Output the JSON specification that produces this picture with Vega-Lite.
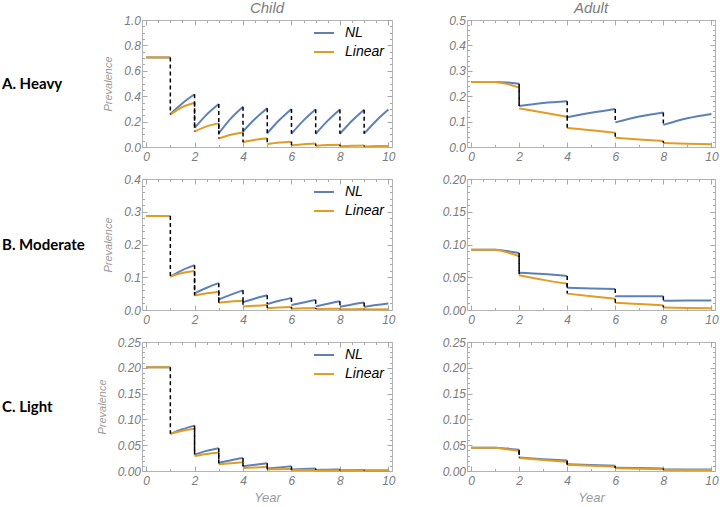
{
  "$schema": "https://vega.github.io/schema/vega-lite/v6.json",
  "autosize": {"type": "pad"},
  "padding": {"left": 2, "top": 0, "right": 0, "bottom": 0},
  "background": "white",
  "columns": 3,
  "spacing": {"column": 75, "row": 32},
  "bounds": "flush",
  "resolve": {"scale": {"color": "independent"}, "legend": {"color": "independent"}},
  "config": {
    "font": "Liberation Sans",
    "view": {"stroke": "#b4b4b4"},
    "axis": {"labelFont": "Liberation Sans", "labelFontStyle": "italic", "labelColor": "#7c7c7c", "labelFontSize": 12, "labelOverlap": false, "labelFlush": false, "domain": false, "grid": false, "ticks": true, "tickColor": "#a8a8a8", "labelPadding": 6.5, "titleFont": "Liberation Sans", "titleFontStyle": "italic", "titleFontWeight": "normal", "titleColor": "#9a9a9a", "titleFontSize": 11},
    "axisX": {"labelPadding": 9.5, "titleFontSize": 13, "titlePadding": 2},
    "axisY": {"titlePadding": 10},
    "title": {"font": "Liberation Sans", "fontStyle": "italic", "fontWeight": "normal", "color": "#7c7c7c", "fontSize": 15, "offset": -2},
    "legend": {"orient": "none", "legendX": 171, "legendY": 2, "title": null, "symbolType": "stroke", "symbolSize": 400, "symbolStrokeWidth": 2, "labelFont": "Liberation Sans", "labelFontStyle": "italic", "labelColor": "black", "labelFontSize": 14, "labelOffset": 10, "rowPadding": 1, "padding": 0},
    "line": {"strokeWidth": 2, "interpolate": "monotone"},
    "rule": {"strokeDash": [4, 3], "color": "black", "strokeWidth": 1.5}
  },
  "datasets": {
    "ACl": [
      {"s":"NL","g":0,"x":0,"y":0.705},{"s":"NL","g":0,"x":1,"y":0.705},
      {"s":"NL","g":1,"x":1,"y":0.26},{"s":"NL","g":1,"x":1.5,"y":0.345},{"s":"NL","g":1,"x":2,"y":0.415},
      {"s":"NL","g":2,"x":2,"y":0.15},{"s":"NL","g":2,"x":2.5,"y":0.255},{"s":"NL","g":2,"x":3,"y":0.338},
      {"s":"NL","g":3,"x":3,"y":0.108},{"s":"NL","g":3,"x":3.5,"y":0.225},{"s":"NL","g":3,"x":4,"y":0.317},
      {"s":"NL","g":4,"x":4,"y":0.122},{"s":"NL","g":4,"x":4.5,"y":0.222},{"s":"NL","g":4,"x":5,"y":0.305},
      {"s":"NL","g":5,"x":5,"y":0.108},{"s":"NL","g":5,"x":5.5,"y":0.212},{"s":"NL","g":5,"x":6,"y":0.3},
      {"s":"NL","g":6,"x":6,"y":0.105},{"s":"NL","g":6,"x":6.5,"y":0.21},{"s":"NL","g":6,"x":7,"y":0.298},
      {"s":"NL","g":7,"x":7,"y":0.104},{"s":"NL","g":7,"x":7.5,"y":0.208},{"s":"NL","g":7,"x":8,"y":0.296},
      {"s":"NL","g":8,"x":8,"y":0.104},{"s":"NL","g":8,"x":8.5,"y":0.207},{"s":"NL","g":8,"x":9,"y":0.294},
      {"s":"NL","g":9,"x":9,"y":0.105},{"s":"NL","g":9,"x":9.5,"y":0.207},{"s":"NL","g":9,"x":10,"y":0.295},
      {"s":"Linear","g":0,"x":0,"y":0.705},{"s":"Linear","g":0,"x":1,"y":0.705},
      {"s":"Linear","g":1,"x":1,"y":0.255},{"s":"Linear","g":1,"x":1.5,"y":0.315},{"s":"Linear","g":1,"x":2,"y":0.349},
      {"s":"Linear","g":2,"x":2,"y":0.122},{"s":"Linear","g":2,"x":2.5,"y":0.162},{"s":"Linear","g":2,"x":3,"y":0.186},
      {"s":"Linear","g":3,"x":3,"y":0.067},{"s":"Linear","g":3,"x":3.5,"y":0.097},{"s":"Linear","g":3,"x":4,"y":0.115},
      {"s":"Linear","g":4,"x":4,"y":0.038},{"s":"Linear","g":4,"x":4.5,"y":0.057},{"s":"Linear","g":4,"x":5,"y":0.069},
      {"s":"Linear","g":5,"x":5,"y":0.022},{"s":"Linear","g":5,"x":5.5,"y":0.035},{"s":"Linear","g":5,"x":6,"y":0.042},
      {"s":"Linear","g":6,"x":6,"y":0.014},{"s":"Linear","g":6,"x":6.5,"y":0.022},{"s":"Linear","g":6,"x":7,"y":0.027},
      {"s":"Linear","g":7,"x":7,"y":0.009},{"s":"Linear","g":7,"x":7.5,"y":0.015},{"s":"Linear","g":7,"x":8,"y":0.018},
      {"s":"Linear","g":8,"x":8,"y":0.006},{"s":"Linear","g":8,"x":8.5,"y":0.01},{"s":"Linear","g":8,"x":9,"y":0.012},
      {"s":"Linear","g":9,"x":9,"y":0.004},{"s":"Linear","g":9,"x":9.5,"y":0.007},{"s":"Linear","g":9,"x":10,"y":0.008}
    ],
    "ACr": [
      {"x":1,"y":0.705,"y2":0.255},
      {"x":2,"y":0.415,"y2":0.15},{"x":2,"y":0.349,"y2":0.122},
      {"x":3,"y":0.338,"y2":0.108},{"x":3,"y":0.186,"y2":0.067},
      {"x":4,"y":0.317,"y2":0.122},{"x":4,"y":0.115,"y2":0.038},
      {"x":5,"y":0.305,"y2":0.108},{"x":5,"y":0.069,"y2":0.022},
      {"x":6,"y":0.3,"y2":0.105},{"x":6,"y":0.042,"y2":0.014},
      {"x":7,"y":0.298,"y2":0.104},{"x":7,"y":0.027,"y2":0.009},
      {"x":8,"y":0.296,"y2":0.104},{"x":8,"y":0.018,"y2":0.006},
      {"x":9,"y":0.294,"y2":0.105},{"x":9,"y":0.012,"y2":0.004}
    ],
    "AAl": [
      {"s":"NL","g":0,"x":0,"y":0.256},{"s":"NL","g":0,"x":1,"y":0.256},{"s":"NL","g":0,"x":1.5,"y":0.254},{"s":"NL","g":0,"x":2,"y":0.249},
      {"s":"NL","g":1,"x":2,"y":0.161},{"s":"NL","g":1,"x":3,"y":0.173},{"s":"NL","g":1,"x":4,"y":0.18},
      {"s":"NL","g":2,"x":4,"y":0.117},{"s":"NL","g":2,"x":5,"y":0.135},{"s":"NL","g":2,"x":6,"y":0.15},
      {"s":"NL","g":3,"x":6,"y":0.097},{"s":"NL","g":3,"x":7,"y":0.12},{"s":"NL","g":3,"x":8,"y":0.136},
      {"s":"NL","g":4,"x":8,"y":0.087},{"s":"NL","g":4,"x":9,"y":0.113},{"s":"NL","g":4,"x":10,"y":0.13},
      {"s":"Linear","g":0,"x":0,"y":0.256},{"s":"Linear","g":0,"x":1,"y":0.256},{"s":"Linear","g":0,"x":1.5,"y":0.248},{"s":"Linear","g":0,"x":2,"y":0.234},
      {"s":"Linear","g":1,"x":2,"y":0.152},{"s":"Linear","g":1,"x":3,"y":0.136},{"s":"Linear","g":1,"x":4,"y":0.119},
      {"s":"Linear","g":2,"x":4,"y":0.075},{"s":"Linear","g":2,"x":5,"y":0.066},{"s":"Linear","g":2,"x":6,"y":0.056},
      {"s":"Linear","g":3,"x":6,"y":0.036},{"s":"Linear","g":3,"x":7,"y":0.03},{"s":"Linear","g":3,"x":8,"y":0.024},
      {"s":"Linear","g":4,"x":8,"y":0.016},{"s":"Linear","g":4,"x":9,"y":0.013},{"s":"Linear","g":4,"x":10,"y":0.011}
    ],
    "AAr": [
      {"x":2,"y":0.249,"y2":0.161},{"x":2,"y":0.234,"y2":0.152},
      {"x":4,"y":0.18,"y2":0.117},{"x":4,"y":0.119,"y2":0.075},
      {"x":6,"y":0.15,"y2":0.097},{"x":6,"y":0.056,"y2":0.036},
      {"x":8,"y":0.136,"y2":0.087},{"x":8,"y":0.024,"y2":0.016}
    ],
    "BCl": [
      {"s":"NL","g":0,"x":0,"y":0.287},{"s":"NL","g":0,"x":1,"y":0.287},
      {"s":"NL","g":1,"x":1,"y":0.102},{"s":"NL","g":1,"x":1.5,"y":0.122},{"s":"NL","g":1,"x":2,"y":0.137},
      {"s":"NL","g":2,"x":2,"y":0.051},{"s":"NL","g":2,"x":2.5,"y":0.068},{"s":"NL","g":2,"x":3,"y":0.082},
      {"s":"NL","g":3,"x":3,"y":0.032},{"s":"NL","g":3,"x":3.5,"y":0.047},{"s":"NL","g":3,"x":4,"y":0.06},
      {"s":"NL","g":4,"x":4,"y":0.024},{"s":"NL","g":4,"x":4.5,"y":0.035},{"s":"NL","g":4,"x":5,"y":0.045},
      {"s":"NL","g":5,"x":5,"y":0.018},{"s":"NL","g":5,"x":5.5,"y":0.028},{"s":"NL","g":5,"x":6,"y":0.037},
      {"s":"NL","g":6,"x":6,"y":0.015},{"s":"NL","g":6,"x":6.5,"y":0.023},{"s":"NL","g":6,"x":7,"y":0.031},
      {"s":"NL","g":7,"x":7,"y":0.011},{"s":"NL","g":7,"x":7.5,"y":0.019},{"s":"NL","g":7,"x":8,"y":0.027},
      {"s":"NL","g":8,"x":8,"y":0.01},{"s":"NL","g":8,"x":8.5,"y":0.017},{"s":"NL","g":8,"x":9,"y":0.023},
      {"s":"NL","g":9,"x":9,"y":0.009},{"s":"NL","g":9,"x":9.5,"y":0.015},{"s":"NL","g":9,"x":10,"y":0.02},
      {"s":"Linear","g":0,"x":0,"y":0.287},{"s":"Linear","g":0,"x":1,"y":0.287},
      {"s":"Linear","g":1,"x":1,"y":0.102},{"s":"Linear","g":1,"x":1.5,"y":0.113},{"s":"Linear","g":1,"x":2,"y":0.119},
      {"s":"Linear","g":2,"x":2,"y":0.044},{"s":"Linear","g":2,"x":2.5,"y":0.051},{"s":"Linear","g":2,"x":3,"y":0.056},
      {"s":"Linear","g":3,"x":3,"y":0.022},{"s":"Linear","g":3,"x":3.5,"y":0.026},{"s":"Linear","g":3,"x":4,"y":0.028},
      {"s":"Linear","g":4,"x":4,"y":0.011},{"s":"Linear","g":4,"x":4.5,"y":0.013},{"s":"Linear","g":4,"x":5,"y":0.015},
      {"s":"Linear","g":5,"x":5,"y":0.006},{"s":"Linear","g":5,"x":5.5,"y":0.008},{"s":"Linear","g":5,"x":6,"y":0.009},
      {"s":"Linear","g":6,"x":6,"y":0.004},{"s":"Linear","g":6,"x":6.5,"y":0.005},{"s":"Linear","g":6,"x":7,"y":0.006},
      {"s":"Linear","g":7,"x":7,"y":0.003},{"s":"Linear","g":7,"x":7.5,"y":0.0035},{"s":"Linear","g":7,"x":8,"y":0.004},
      {"s":"Linear","g":8,"x":8,"y":0.002},{"s":"Linear","g":8,"x":8.5,"y":0.0025},{"s":"Linear","g":8,"x":9,"y":0.003},
      {"s":"Linear","g":9,"x":9,"y":0.002},{"s":"Linear","g":9,"x":9.5,"y":0.002},{"s":"Linear","g":9,"x":10,"y":0.002}
    ],
    "BCr": [
      {"x":1,"y":0.287,"y2":0.102},
      {"x":2,"y":0.137,"y2":0.051},{"x":2,"y":0.119,"y2":0.044},
      {"x":3,"y":0.082,"y2":0.032},{"x":3,"y":0.056,"y2":0.022},
      {"x":4,"y":0.06,"y2":0.024},{"x":4,"y":0.028,"y2":0.011},
      {"x":5,"y":0.045,"y2":0.018},{"x":5,"y":0.015,"y2":0.006},
      {"x":6,"y":0.037,"y2":0.015},{"x":6,"y":0.009,"y2":0.004},
      {"x":7,"y":0.031,"y2":0.011},{"x":7,"y":0.006,"y2":0.003},
      {"x":8,"y":0.027,"y2":0.01},{"x":8,"y":0.004,"y2":0.002},
      {"x":9,"y":0.023,"y2":0.009},{"x":9,"y":0.003,"y2":0.002}
    ],
    "BAl": [
      {"s":"NL","g":0,"x":0,"y":0.092},{"s":"NL","g":0,"x":1,"y":0.092},{"s":"NL","g":0,"x":1.5,"y":0.09},{"s":"NL","g":0,"x":2,"y":0.087},
      {"s":"NL","g":1,"x":2,"y":0.057},{"s":"NL","g":1,"x":3,"y":0.055},{"s":"NL","g":1,"x":4,"y":0.052},
      {"s":"NL","g":2,"x":4,"y":0.034},{"s":"NL","g":2,"x":5,"y":0.033},{"s":"NL","g":2,"x":6,"y":0.032},
      {"s":"NL","g":3,"x":6,"y":0.021},{"s":"NL","g":3,"x":7,"y":0.021},{"s":"NL","g":3,"x":8,"y":0.021},
      {"s":"NL","g":4,"x":8,"y":0.014},{"s":"NL","g":4,"x":9,"y":0.0145},{"s":"NL","g":4,"x":10,"y":0.0145},
      {"s":"Linear","g":0,"x":0,"y":0.092},{"s":"Linear","g":0,"x":1,"y":0.092},{"s":"Linear","g":0,"x":1.5,"y":0.088},{"s":"Linear","g":0,"x":2,"y":0.082},
      {"s":"Linear","g":1,"x":2,"y":0.053},{"s":"Linear","g":1,"x":3,"y":0.046},{"s":"Linear","g":1,"x":4,"y":0.04},
      {"s":"Linear","g":2,"x":4,"y":0.025},{"s":"Linear","g":2,"x":5,"y":0.021},{"s":"Linear","g":2,"x":6,"y":0.017},
      {"s":"Linear","g":3,"x":6,"y":0.011},{"s":"Linear","g":3,"x":7,"y":0.009},{"s":"Linear","g":3,"x":8,"y":0.007},
      {"s":"Linear","g":4,"x":8,"y":0.004},{"s":"Linear","g":4,"x":9,"y":0.003},{"s":"Linear","g":4,"x":10,"y":0.0026}
    ],
    "BAr": [
      {"x":2,"y":0.087,"y2":0.057},{"x":2,"y":0.082,"y2":0.053},
      {"x":4,"y":0.052,"y2":0.034},{"x":4,"y":0.04,"y2":0.025},
      {"x":6,"y":0.032,"y2":0.021},{"x":6,"y":0.017,"y2":0.011},
      {"x":8,"y":0.021,"y2":0.014},{"x":8,"y":0.007,"y2":0.004}
    ],
    "CCl": [
      {"s":"NL","g":0,"x":0,"y":0.201},{"s":"NL","g":0,"x":1,"y":0.201},
      {"s":"NL","g":1,"x":1,"y":0.072},{"s":"NL","g":1,"x":1.5,"y":0.081},{"s":"NL","g":1,"x":2,"y":0.088},
      {"s":"NL","g":2,"x":2,"y":0.032},{"s":"NL","g":2,"x":2.5,"y":0.039},{"s":"NL","g":2,"x":3,"y":0.044},
      {"s":"NL","g":3,"x":3,"y":0.016},{"s":"NL","g":3,"x":3.5,"y":0.021},{"s":"NL","g":3,"x":4,"y":0.025},
      {"s":"NL","g":4,"x":4,"y":0.009},{"s":"NL","g":4,"x":4.5,"y":0.012},{"s":"NL","g":4,"x":5,"y":0.015},
      {"s":"NL","g":5,"x":5,"y":0.005},{"s":"NL","g":5,"x":5.5,"y":0.007},{"s":"NL","g":5,"x":6,"y":0.009},
      {"s":"NL","g":6,"x":6,"y":0.003},{"s":"NL","g":6,"x":6.5,"y":0.004},{"s":"NL","g":6,"x":7,"y":0.005},
      {"s":"NL","g":7,"x":7,"y":0.002},{"s":"NL","g":7,"x":7.5,"y":0.0025},{"s":"NL","g":7,"x":8,"y":0.003},
      {"s":"NL","g":8,"x":8,"y":0.001},{"s":"NL","g":8,"x":8.5,"y":0.0015},{"s":"NL","g":8,"x":9,"y":0.002},
      {"s":"NL","g":9,"x":9,"y":0.001},{"s":"NL","g":9,"x":10,"y":0.001},
      {"s":"Linear","g":0,"x":0,"y":0.201},{"s":"Linear","g":0,"x":1,"y":0.201},
      {"s":"Linear","g":1,"x":1,"y":0.072},{"s":"Linear","g":1,"x":1.5,"y":0.078},{"s":"Linear","g":1,"x":2,"y":0.082},
      {"s":"Linear","g":2,"x":2,"y":0.029},{"s":"Linear","g":2,"x":2.5,"y":0.033},{"s":"Linear","g":2,"x":3,"y":0.036},
      {"s":"Linear","g":3,"x":3,"y":0.013},{"s":"Linear","g":3,"x":3.5,"y":0.015},{"s":"Linear","g":3,"x":4,"y":0.017},
      {"s":"Linear","g":4,"x":4,"y":0.006},{"s":"Linear","g":4,"x":4.5,"y":0.007},{"s":"Linear","g":4,"x":5,"y":0.008},
      {"s":"Linear","g":5,"x":5,"y":0.003},{"s":"Linear","g":5,"x":5.5,"y":0.0035},{"s":"Linear","g":5,"x":6,"y":0.004},
      {"s":"Linear","g":6,"x":6,"y":0.002},{"s":"Linear","g":6,"x":7,"y":0.002},
      {"s":"Linear","g":7,"x":7,"y":0.001},{"s":"Linear","g":7,"x":8,"y":0.001},
      {"s":"Linear","g":8,"x":8,"y":0.001},{"s":"Linear","g":8,"x":9,"y":0.001},
      {"s":"Linear","g":9,"x":9,"y":0.001},{"s":"Linear","g":9,"x":10,"y":0.001}
    ],
    "CCr": [
      {"x":1,"y":0.201,"y2":0.072},
      {"x":2,"y":0.088,"y2":0.032},{"x":2,"y":0.082,"y2":0.029},
      {"x":3,"y":0.044,"y2":0.016},{"x":3,"y":0.036,"y2":0.013},
      {"x":4,"y":0.025,"y2":0.009},{"x":4,"y":0.017,"y2":0.006},
      {"x":5,"y":0.015,"y2":0.005},{"x":5,"y":0.008,"y2":0.003},
      {"x":6,"y":0.009,"y2":0.003},{"x":6,"y":0.004,"y2":0.002},
      {"x":7,"y":0.005,"y2":0.002},
      {"x":8,"y":0.003,"y2":0.001},
      {"x":9,"y":0.002,"y2":0.001}
    ],
    "CAl": [
      {"s":"NL","g":0,"x":0,"y":0.045},{"s":"NL","g":0,"x":1,"y":0.045},{"s":"NL","g":0,"x":1.5,"y":0.0435},{"s":"NL","g":0,"x":2,"y":0.041},
      {"s":"NL","g":1,"x":2,"y":0.026},{"s":"NL","g":1,"x":3,"y":0.023},{"s":"NL","g":1,"x":4,"y":0.0205},
      {"s":"NL","g":2,"x":4,"y":0.013},{"s":"NL","g":2,"x":5,"y":0.0115},{"s":"NL","g":2,"x":6,"y":0.01},
      {"s":"NL","g":3,"x":6,"y":0.0065},{"s":"NL","g":3,"x":7,"y":0.0058},{"s":"NL","g":3,"x":8,"y":0.005},
      {"s":"NL","g":4,"x":8,"y":0.003},{"s":"NL","g":4,"x":9,"y":0.0028},{"s":"NL","g":4,"x":10,"y":0.0027},
      {"s":"Linear","g":0,"x":0,"y":0.045},{"s":"Linear","g":0,"x":1,"y":0.045},{"s":"Linear","g":0,"x":1.5,"y":0.042},{"s":"Linear","g":0,"x":2,"y":0.039},
      {"s":"Linear","g":1,"x":2,"y":0.025},{"s":"Linear","g":1,"x":3,"y":0.0215},{"s":"Linear","g":1,"x":4,"y":0.018},
      {"s":"Linear","g":2,"x":4,"y":0.012},{"s":"Linear","g":2,"x":5,"y":0.01},{"s":"Linear","g":2,"x":6,"y":0.008},
      {"s":"Linear","g":3,"x":6,"y":0.0055},{"s":"Linear","g":3,"x":7,"y":0.0045},{"s":"Linear","g":3,"x":8,"y":0.0035},
      {"s":"Linear","g":4,"x":8,"y":0.0025},{"s":"Linear","g":4,"x":9,"y":0.002},{"s":"Linear","g":4,"x":10,"y":0.0018}
    ],
    "CAr": [
      {"x":2,"y":0.041,"y2":0.026},{"x":2,"y":0.039,"y2":0.025},
      {"x":4,"y":0.0205,"y2":0.013},{"x":4,"y":0.018,"y2":0.012},
      {"x":6,"y":0.01,"y2":0.0065},{"x":6,"y":0.008,"y2":0.0055},
      {"x":8,"y":0.005,"y2":0.003},{"x":8,"y":0.0035,"y2":0.0025}
    ]
  },
  "concat": [
    {
      "width": 65, "height": 127, "view": {"stroke": null},
      "data": {"values": [{"r": "A. Heavy"}]},
      "mark": {"type": "text", "align": "left", "baseline": "middle", "font": "Lato", "fontWeight": "bold", "fontSize": 15, "color": "black"},
      "encoding": {"text": {"field": "r"}, "x": {"datum": 0, "type": "quantitative", "scale": {"domain": [0, 1]}, "axis": null}}
    },
    {
      "width": 250, "height": 127,
      "title": {"text": "Child"},
      "resolve": {"axis": {"x": "independent", "y": "independent"}},
      "encoding": {
        "x": {"field": "x", "type": "quantitative", "scale": {"domain": [-0.17, 10.15], "nice": false, "zero": false},
              "axis": {"title": null, "format": "d", "values": [0,0.5,1,1.5,2,2.5,3,3.5,4,4.5,5,5.5,6,6.5,7,7.5,8,8.5,9,9.5,10], "labelExpr": "indexof([0,2,4,6,8,10], datum.value) >= 0 ? datum.label : ''", "tickSize": {"condition": {"test": "indexof([0,2,4,6,8,10], datum.value) >= 0", "value": -5}, "value": -2.5}}},
        "y": {"field": "y", "type": "quantitative", "scale": {"domain": [0, 1], "nice": false},
              "axis": {"title": "Prevalence", "format": ".1f", "values": [0,0.05,0.1,0.15,0.2,0.25,0.3,0.35,0.4,0.45,0.5,0.55,0.6,0.65,0.7,0.75,0.8,0.85,0.9,0.95,1], "labelExpr": "indexof([0,0.2,0.4,0.6,0.8,1], datum.value) >= 0 ? datum.label : ''", "tickSize": {"condition": {"test": "indexof([0,0.2,0.4,0.6,0.8,1], datum.value) >= 0", "value": -5}, "value": -2.5}}}
      },
      "layer": [
        {"data": {"name": "ACl"}, "mark": "line", "encoding": {"color": {"field": "s", "type": "nominal", "scale": {"domain": ["NL", "Linear"], "range": ["#5E81B5", "#E19C24"]}, "legend": {}}, "detail": {"field": "g"}}},
        {"data": {"name": "ACr"}, "mark": "rule", "encoding": {
          "x": {"field": "x", "type": "quantitative", "axis": {"orient": "top", "title": null, "labels": false, "values": [0,0.5,1,1.5,2,2.5,3,3.5,4,4.5,5,5.5,6,6.5,7,7.5,8,8.5,9,9.5,10], "tickSize": {"condition": {"test": "indexof([0,2,4,6,8,10], datum.value) >= 0", "value": -5}, "value": -2.5}}},
          "y": {"field": "y", "type": "quantitative", "axis": {"orient": "right", "title": null, "labels": false, "values": [0,0.05,0.1,0.15,0.2,0.25,0.3,0.35,0.4,0.45,0.5,0.55,0.6,0.65,0.7,0.75,0.8,0.85,0.9,0.95,1], "tickSize": {"condition": {"test": "indexof([0,0.2,0.4,0.6,0.8,1], datum.value) >= 0", "value": -5}, "value": -2.5}}},
          "y2": {"field": "y2"}}}
      ]
    },
    {
      "width": 248, "height": 127,
      "title": {"text": "Adult"},
      "resolve": {"axis": {"x": "independent", "y": "independent"}},
      "encoding": {
        "x": {"field": "x", "type": "quantitative", "scale": {"domain": [-0.17, 10.15], "nice": false, "zero": false},
              "axis": {"title": null, "format": "d", "values": [0,0.5,1,1.5,2,2.5,3,3.5,4,4.5,5,5.5,6,6.5,7,7.5,8,8.5,9,9.5,10], "labelExpr": "indexof([0,2,4,6,8,10], datum.value) >= 0 ? datum.label : ''", "tickSize": {"condition": {"test": "indexof([0,2,4,6,8,10], datum.value) >= 0", "value": -5}, "value": -2.5}}},
        "y": {"field": "y", "type": "quantitative", "scale": {"domain": [0, 0.5], "nice": false},
              "axis": {"title": null, "format": ".1f", "values": [0,0.02,0.04,0.06,0.08,0.1,0.12,0.14,0.16,0.18,0.2,0.22,0.24,0.26,0.28,0.3,0.32,0.34,0.36,0.38,0.4,0.42,0.44,0.46,0.48,0.5], "labelExpr": "indexof([0,0.1,0.2,0.3,0.4,0.5], datum.value) >= 0 ? datum.label : ''", "tickSize": {"condition": {"test": "indexof([0,0.1,0.2,0.3,0.4,0.5], datum.value) >= 0", "value": -5}, "value": -2.5}}}
      },
      "layer": [
        {"data": {"name": "AAl"}, "mark": "line", "encoding": {"color": {"field": "s", "type": "nominal", "scale": {"domain": ["NL", "Linear"], "range": ["#5E81B5", "#E19C24"]}, "legend": null}, "detail": {"field": "g"}}},
        {"data": {"name": "AAr"}, "mark": "rule", "encoding": {
          "x": {"field": "x", "type": "quantitative", "axis": {"orient": "top", "title": null, "labels": false, "values": [0,0.5,1,1.5,2,2.5,3,3.5,4,4.5,5,5.5,6,6.5,7,7.5,8,8.5,9,9.5,10], "tickSize": {"condition": {"test": "indexof([0,2,4,6,8,10], datum.value) >= 0", "value": -5}, "value": -2.5}}},
          "y": {"field": "y", "type": "quantitative", "axis": {"orient": "right", "title": null, "labels": false, "values": [0,0.02,0.04,0.06,0.08,0.1,0.12,0.14,0.16,0.18,0.2,0.22,0.24,0.26,0.28,0.3,0.32,0.34,0.36,0.38,0.4,0.42,0.44,0.46,0.48,0.5], "tickSize": {"condition": {"test": "indexof([0,0.1,0.2,0.3,0.4,0.5], datum.value) >= 0", "value": -5}, "value": -2.5}}},
          "y2": {"field": "y2"}}}
      ]
    },
    {
      "width": 65, "height": 131, "view": {"stroke": null},
      "data": {"values": [{"r": "B. Moderate"}]},
      "mark": {"type": "text", "align": "left", "baseline": "middle", "font": "Lato", "fontWeight": "bold", "fontSize": 15, "color": "black"},
      "encoding": {"text": {"field": "r"}, "x": {"datum": 0, "type": "quantitative", "scale": {"domain": [0, 1]}, "axis": null}}
    },
    {
      "width": 250, "height": 131,
      "resolve": {"axis": {"x": "independent", "y": "independent"}},
      "encoding": {
        "x": {"field": "x", "type": "quantitative", "scale": {"domain": [-0.17, 10.15], "nice": false, "zero": false},
              "axis": {"title": null, "format": "d", "values": [0,0.5,1,1.5,2,2.5,3,3.5,4,4.5,5,5.5,6,6.5,7,7.5,8,8.5,9,9.5,10], "labelExpr": "indexof([0,2,4,6,8,10], datum.value) >= 0 ? datum.label : ''", "tickSize": {"condition": {"test": "indexof([0,2,4,6,8,10], datum.value) >= 0", "value": -5}, "value": -2.5}}},
        "y": {"field": "y", "type": "quantitative", "scale": {"domain": [0, 0.4], "nice": false},
              "axis": {"title": "Prevalence", "format": ".1f", "values": [0,0.02,0.04,0.06,0.08,0.1,0.12,0.14,0.16,0.18,0.2,0.22,0.24,0.26,0.28,0.3,0.32,0.34,0.36,0.38,0.4], "labelExpr": "indexof([0,0.1,0.2,0.3,0.4], datum.value) >= 0 ? datum.label : ''", "tickSize": {"condition": {"test": "indexof([0,0.1,0.2,0.3,0.4], datum.value) >= 0", "value": -5}, "value": -2.5}}}
      },
      "layer": [
        {"data": {"name": "BCl"}, "mark": "line", "encoding": {"color": {"field": "s", "type": "nominal", "scale": {"domain": ["NL", "Linear"], "range": ["#5E81B5", "#E19C24"]}, "legend": {}}, "detail": {"field": "g"}}},
        {"data": {"name": "BCr"}, "mark": "rule", "encoding": {
          "x": {"field": "x", "type": "quantitative", "axis": {"orient": "top", "title": null, "labels": false, "values": [0,0.5,1,1.5,2,2.5,3,3.5,4,4.5,5,5.5,6,6.5,7,7.5,8,8.5,9,9.5,10], "tickSize": {"condition": {"test": "indexof([0,2,4,6,8,10], datum.value) >= 0", "value": -5}, "value": -2.5}}},
          "y": {"field": "y", "type": "quantitative", "axis": {"orient": "right", "title": null, "labels": false, "values": [0,0.02,0.04,0.06,0.08,0.1,0.12,0.14,0.16,0.18,0.2,0.22,0.24,0.26,0.28,0.3,0.32,0.34,0.36,0.38,0.4], "tickSize": {"condition": {"test": "indexof([0,0.1,0.2,0.3,0.4], datum.value) >= 0", "value": -5}, "value": -2.5}}},
          "y2": {"field": "y2"}}}
      ]
    },
    {
      "width": 248, "height": 131,
      "resolve": {"axis": {"x": "independent", "y": "independent"}},
      "encoding": {
        "x": {"field": "x", "type": "quantitative", "scale": {"domain": [-0.17, 10.15], "nice": false, "zero": false},
              "axis": {"title": null, "format": "d", "values": [0,0.5,1,1.5,2,2.5,3,3.5,4,4.5,5,5.5,6,6.5,7,7.5,8,8.5,9,9.5,10], "labelExpr": "indexof([0,2,4,6,8,10], datum.value) >= 0 ? datum.label : ''", "tickSize": {"condition": {"test": "indexof([0,2,4,6,8,10], datum.value) >= 0", "value": -5}, "value": -2.5}}},
        "y": {"field": "y", "type": "quantitative", "scale": {"domain": [0, 0.2], "nice": false},
              "axis": {"title": null, "format": ".2f", "values": [0,0.01,0.02,0.03,0.04,0.05,0.06,0.07,0.08,0.09,0.1,0.11,0.12,0.13,0.14,0.15,0.16,0.17,0.18,0.19,0.2], "labelExpr": "indexof([0,0.05,0.1,0.15,0.2], datum.value) >= 0 ? datum.label : ''", "tickSize": {"condition": {"test": "indexof([0,0.05,0.1,0.15,0.2], datum.value) >= 0", "value": -5}, "value": -2.5}}}
      },
      "layer": [
        {"data": {"name": "BAl"}, "mark": "line", "encoding": {"color": {"field": "s", "type": "nominal", "scale": {"domain": ["NL", "Linear"], "range": ["#5E81B5", "#E19C24"]}, "legend": null}, "detail": {"field": "g"}}},
        {"data": {"name": "BAr"}, "mark": "rule", "encoding": {
          "x": {"field": "x", "type": "quantitative", "axis": {"orient": "top", "title": null, "labels": false, "values": [0,0.5,1,1.5,2,2.5,3,3.5,4,4.5,5,5.5,6,6.5,7,7.5,8,8.5,9,9.5,10], "tickSize": {"condition": {"test": "indexof([0,2,4,6,8,10], datum.value) >= 0", "value": -5}, "value": -2.5}}},
          "y": {"field": "y", "type": "quantitative", "axis": {"orient": "right", "title": null, "labels": false, "values": [0,0.01,0.02,0.03,0.04,0.05,0.06,0.07,0.08,0.09,0.1,0.11,0.12,0.13,0.14,0.15,0.16,0.17,0.18,0.19,0.2], "tickSize": {"condition": {"test": "indexof([0,0.05,0.1,0.15,0.2], datum.value) >= 0", "value": -5}, "value": -2.5}}},
          "y2": {"field": "y2"}}}
      ]
    },
    {
      "width": 65, "height": 129, "view": {"stroke": null},
      "data": {"values": [{"r": "C. Light"}]},
      "mark": {"type": "text", "align": "left", "baseline": "middle", "font": "Lato", "fontWeight": "bold", "fontSize": 15, "color": "black"},
      "encoding": {"text": {"field": "r"}, "x": {"datum": 0, "type": "quantitative", "scale": {"domain": [0, 1]}, "axis": null}}
    },
    {
      "width": 250, "height": 129,
      "resolve": {"axis": {"x": "independent", "y": "independent"}},
      "encoding": {
        "x": {"field": "x", "type": "quantitative", "scale": {"domain": [-0.17, 10.15], "nice": false, "zero": false},
              "axis": {"title": "Year", "format": "d", "values": [0,0.5,1,1.5,2,2.5,3,3.5,4,4.5,5,5.5,6,6.5,7,7.5,8,8.5,9,9.5,10], "labelExpr": "indexof([0,2,4,6,8,10], datum.value) >= 0 ? datum.label : ''", "tickSize": {"condition": {"test": "indexof([0,2,4,6,8,10], datum.value) >= 0", "value": -5}, "value": -2.5}}},
        "y": {"field": "y", "type": "quantitative", "scale": {"domain": [0, 0.25], "nice": false},
              "axis": {"title": "Prevalence", "format": ".2f", "values": [0,0.01,0.02,0.03,0.04,0.05,0.06,0.07,0.08,0.09,0.1,0.11,0.12,0.13,0.14,0.15,0.16,0.17,0.18,0.19,0.2,0.21,0.22,0.23,0.24,0.25], "labelExpr": "indexof([0,0.05,0.1,0.15,0.2,0.25], datum.value) >= 0 ? datum.label : ''", "tickSize": {"condition": {"test": "indexof([0,0.05,0.1,0.15,0.2,0.25], datum.value) >= 0", "value": -5}, "value": -2.5}}}
      },
      "layer": [
        {"data": {"name": "CCl"}, "mark": "line", "encoding": {"color": {"field": "s", "type": "nominal", "scale": {"domain": ["NL", "Linear"], "range": ["#5E81B5", "#E19C24"]}, "legend": {}}, "detail": {"field": "g"}}},
        {"data": {"name": "CCr"}, "mark": "rule", "encoding": {
          "x": {"field": "x", "type": "quantitative", "axis": {"orient": "top", "title": null, "labels": false, "values": [0,0.5,1,1.5,2,2.5,3,3.5,4,4.5,5,5.5,6,6.5,7,7.5,8,8.5,9,9.5,10], "tickSize": {"condition": {"test": "indexof([0,2,4,6,8,10], datum.value) >= 0", "value": -5}, "value": -2.5}}},
          "y": {"field": "y", "type": "quantitative", "axis": {"orient": "right", "title": null, "labels": false, "values": [0,0.01,0.02,0.03,0.04,0.05,0.06,0.07,0.08,0.09,0.1,0.11,0.12,0.13,0.14,0.15,0.16,0.17,0.18,0.19,0.2,0.21,0.22,0.23,0.24,0.25], "tickSize": {"condition": {"test": "indexof([0,0.05,0.1,0.15,0.2,0.25], datum.value) >= 0", "value": -5}, "value": -2.5}}},
          "y2": {"field": "y2"}}}
      ]
    },
    {
      "width": 248, "height": 129,
      "resolve": {"axis": {"x": "independent", "y": "independent"}},
      "encoding": {
        "x": {"field": "x", "type": "quantitative", "scale": {"domain": [-0.17, 10.15], "nice": false, "zero": false},
              "axis": {"title": "Year", "format": "d", "values": [0,0.5,1,1.5,2,2.5,3,3.5,4,4.5,5,5.5,6,6.5,7,7.5,8,8.5,9,9.5,10], "labelExpr": "indexof([0,2,4,6,8,10], datum.value) >= 0 ? datum.label : ''", "tickSize": {"condition": {"test": "indexof([0,2,4,6,8,10], datum.value) >= 0", "value": -5}, "value": -2.5}}},
        "y": {"field": "y", "type": "quantitative", "scale": {"domain": [0, 0.25], "nice": false},
              "axis": {"title": null, "format": ".2f", "values": [0,0.01,0.02,0.03,0.04,0.05,0.06,0.07,0.08,0.09,0.1,0.11,0.12,0.13,0.14,0.15,0.16,0.17,0.18,0.19,0.2,0.21,0.22,0.23,0.24,0.25], "labelExpr": "indexof([0,0.05,0.1,0.15,0.2,0.25], datum.value) >= 0 ? datum.label : ''", "tickSize": {"condition": {"test": "indexof([0,0.05,0.1,0.15,0.2,0.25], datum.value) >= 0", "value": -5}, "value": -2.5}}}
      },
      "layer": [
        {"data": {"name": "CAl"}, "mark": "line", "encoding": {"color": {"field": "s", "type": "nominal", "scale": {"domain": ["NL", "Linear"], "range": ["#5E81B5", "#E19C24"]}, "legend": null}, "detail": {"field": "g"}}},
        {"data": {"name": "CAr"}, "mark": "rule", "encoding": {
          "x": {"field": "x", "type": "quantitative", "axis": {"orient": "top", "title": null, "labels": false, "values": [0,0.5,1,1.5,2,2.5,3,3.5,4,4.5,5,5.5,6,6.5,7,7.5,8,8.5,9,9.5,10], "tickSize": {"condition": {"test": "indexof([0,2,4,6,8,10], datum.value) >= 0", "value": -5}, "value": -2.5}}},
          "y": {"field": "y", "type": "quantitative", "axis": {"orient": "right", "title": null, "labels": false, "values": [0,0.01,0.02,0.03,0.04,0.05,0.06,0.07,0.08,0.09,0.1,0.11,0.12,0.13,0.14,0.15,0.16,0.17,0.18,0.19,0.2,0.21,0.22,0.23,0.24,0.25], "tickSize": {"condition": {"test": "indexof([0,0.05,0.1,0.15,0.2,0.25], datum.value) >= 0", "value": -5}, "value": -2.5}}},
          "y2": {"field": "y2"}}}
      ]
    }
  ]
}
